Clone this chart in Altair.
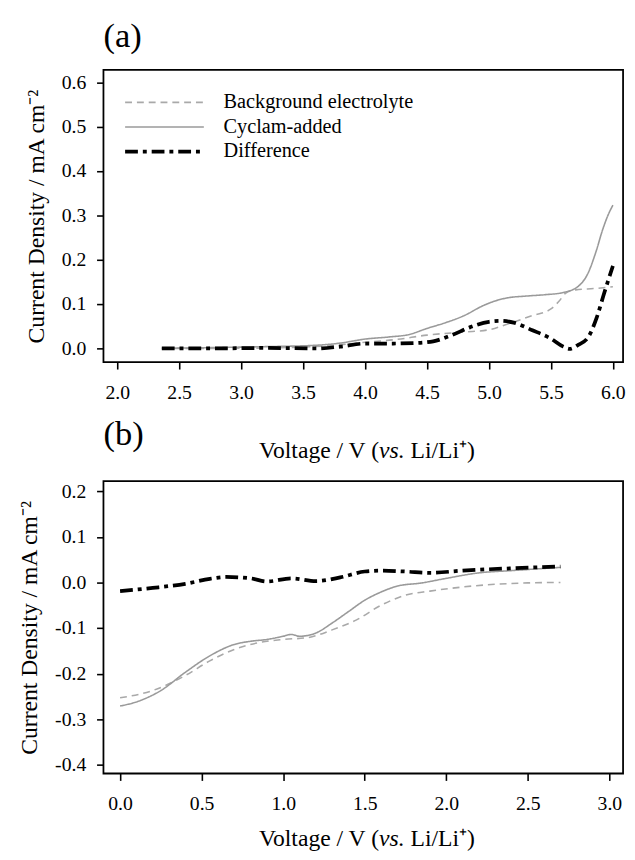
import altair as alt
import pandas as pd

SERIES = ["Background electrolyte", "Cyclam-added", "Difference"]
COLORS = ["#a9a9a9", "#9a9a9a", "#000000"]
DASHES = [[7, 5], [1, 0], [13, 5, 4, 5]]
WIDTHS = [1.6, 1.6, 3.8]
FONT = "Liberation Serif"

# ---- panel (a): oxidation scan ----
a_bg_v = [2.36, 2.8, 3.2, 3.5, 3.75, 4.0, 4.25, 4.5, 4.8, 5.0, 5.15, 5.35, 5.5, 5.57, 5.62, 5.7, 5.85, 6.0]
a_bg_j = [0.0, 0.0, 0.001, 0.003, 0.007, 0.014, 0.02, 0.03, 0.037, 0.042, 0.055, 0.074, 0.089, 0.108, 0.125, 0.132, 0.135, 0.139]
a_cy_v = [2.36, 2.8, 3.2, 3.6, 3.8, 4.0, 4.2, 4.35, 4.5, 4.65, 4.8, 4.95, 5.05, 5.15, 5.3, 5.45, 5.6, 5.72, 5.8, 5.86, 5.92, 5.96, 6.0]
a_cy_j = [0.0, 0.002, 0.004, 0.007, 0.012, 0.021, 0.026, 0.031, 0.045, 0.058, 0.074, 0.096, 0.107, 0.114, 0.118, 0.121, 0.126, 0.14, 0.17, 0.215, 0.27, 0.3, 0.323]
a_df_v = [2.36, 2.8, 3.2, 3.6, 3.8, 4.0, 4.2, 4.4, 4.55, 4.7, 4.85, 5.0, 5.1, 5.2, 5.35, 5.5, 5.6, 5.65, 5.72, 5.8, 5.87, 5.93, 6.0]
a_df_j = [0.0, 0.0, 0.001, 0.0, 0.004, 0.011, 0.011, 0.012, 0.016, 0.03, 0.048, 0.06, 0.062, 0.058, 0.041, 0.022, 0.004, -0.001, 0.008, 0.025, 0.07, 0.125, 0.186]

# ---- panel (b): reduction scan ----
b_bg_v = [0.0, 0.2, 0.4, 0.55, 0.7, 0.85, 1.0, 1.15, 1.3, 1.45, 1.6, 1.75, 1.9, 2.1, 2.3, 2.5, 2.7]
b_bg_j = [-0.253, -0.237, -0.204, -0.172, -0.147, -0.132, -0.125, -0.121, -0.104, -0.082, -0.05, -0.028, -0.019, -0.01, -0.004, -0.001, 0.0]
b_cy_v = [0.0, 0.1, 0.25, 0.4, 0.55, 0.7, 0.8, 0.9, 1.0, 1.05, 1.1, 1.2, 1.3, 1.4, 1.5, 1.6, 1.7, 1.85, 2.0, 2.2, 2.4, 2.7]
b_cy_j = [-0.271, -0.262, -0.237, -0.197, -0.161, -0.136, -0.129, -0.125, -0.118, -0.114, -0.118, -0.111, -0.089, -0.064, -0.039, -0.021, -0.008, -0.001, 0.009, 0.021, 0.026, 0.033]
b_df_v = [0.0, 0.2, 0.4, 0.55, 0.65, 0.8, 0.9, 1.05, 1.2, 1.35, 1.5, 1.6, 1.75, 1.9, 2.1, 2.4, 2.7]
b_df_j = [-0.019, -0.012, -0.003, 0.008, 0.012, 0.009, 0.002, 0.009, 0.003, 0.011, 0.024, 0.026, 0.024, 0.021, 0.026, 0.031, 0.035]

A_XTICKS = [2.0, 2.5, 3.0, 3.5, 4.0, 4.5, 5.0, 5.5, 6.0]
A_YTICKS = [0.0, 0.1, 0.2, 0.3, 0.4, 0.5, 0.6]
B_XTICKS = [0.0, 0.5, 1.0, 1.5, 2.0, 2.5, 3.0]
B_YTICKS = [-0.4, -0.3, -0.2, -0.1, 0.0, 0.1, 0.2]

# x-axis title in three runs so that "vs." can be italic
XTITLE_PARTS = ["Voltage / V (", "vs.", "Li/Li\u207a)"]
YTITLE = "Current Density / mA cm\u207b\u00b2"


def frame(pairs):
    rows = []
    for name, vs, js in pairs:
        for i, (v, j) in enumerate(zip(vs, js)):
            rows.append({"series": name, "V": v, "J": j, "i": i})
    return pd.DataFrame(rows)


df_a = frame([(SERIES[0], a_bg_v, a_bg_j), (SERIES[1], a_cy_v, a_cy_j), (SERIES[2], a_df_v, a_df_j)])
df_b = frame([(SERIES[0], b_bg_v, b_bg_j), (SERIES[1], b_cy_v, b_cy_j), (SERIES[2], b_df_v, b_df_j)])

LBL = "datum.value < 0 ? '-' + format(-datum.value, '.1f') : format(datum.value, '.1f')"


def xtitle_layers(ybase):
    specs = [(XTITLE_PARTS[0], "right", "normal", 280),
             (XTITLE_PARTS[1], "left", "italic", 280),
             (XTITLE_PARTS[2], "left", "normal", 312)]
    out = []
    for txt, al, sty, xpos in specs:
        out.append(
            alt.Chart(pd.DataFrame({"t": [txt]})).mark_text(
                align=al, baseline="alphabetic", font=FONT, fontSize=24,
                fontStyle=sty, color="black"
            ).encode(text="t:N", x=alt.value(xpos), y=alt.value(ybase))
        )
    return out


def panel(df, xdom, ydom, xticks, yticks, show_legend, title_base, letter, letter_off):
    leg = None
    if show_legend:
        leg = alt.Legend(
            title=None, orient="none", legendX=20, legendY=21,
            symbolType="stroke", symbolSize=6400, clipHeight=24, rowPadding=1,
            labelFont=FONT, labelFontSize=20.6, labelColor="black", labelOffset=18,
            padding=0, labelLimit=400,
        )
    lines = alt.Chart(df).mark_line(interpolate="monotone", clip=True).encode(
        x=alt.X("V:Q", scale=alt.Scale(domain=xdom, nice=False, zero=False),
                axis=alt.Axis(values=xticks, labelExpr=LBL, title=None)),
        y=alt.Y("J:Q", scale=alt.Scale(domain=ydom, nice=False, zero=False),
                axis=alt.Axis(values=yticks, labelExpr=LBL, title=YTITLE)),
        color=alt.Color("series:N", scale=alt.Scale(domain=SERIES, range=COLORS), legend=leg),
        strokeDash=alt.StrokeDash("series:N", scale=alt.Scale(domain=SERIES, range=DASHES), legend=leg),
        strokeWidth=alt.StrokeWidth("series:N", scale=alt.Scale(type="ordinal", domain=SERIES, range=WIDTHS), legend=leg),
        order="i:Q",
    )
    return alt.layer(lines, *xtitle_layers(title_base), title=alt.TitleParams(
        letter, anchor="start", frame="group", font=FONT, fontSize=35,
        fontWeight="normal", color="black", offset=letter_off)).properties(width=528, height=297)


pa = panel(df_a, [1.889, 6.082], [-0.031, 0.628], A_XTICKS, A_YTICKS, True, 394, "(a)", 16)
pb = panel(df_b, [-0.102, 3.084], [-0.419, 0.222], B_XTICKS, B_YTICKS, False, 371, "(b)", 30)

chart = alt.vconcat(pa, pb, spacing=121, bounds="flush").resolve_scale(
    color="independent", strokeDash="independent", strokeWidth="independent"
).resolve_legend(color="independent", strokeDash="independent", strokeWidth="independent").properties(
    padding={"left": 9, "top": 4, "right": 0, "bottom": 0}
).configure_view(
    stroke="black", strokeWidth=1.8
).configure_axis(
    domain=False, grid=False, ticks=True, tickColor="black", tickWidth=1.6, tickSize=7,
    labelFont=FONT, labelFontSize=20, labelColor="black", labelPadding=11, labelFlush=False,
    labelOverlap=False,
    titleFont=FONT, titleFontSize=24, titleFontWeight="normal", titleColor="black",
).configure_axisX(
    labelPadding=14,
).configure_axisY(
    titlePadding=13,
)

chart.save("out.html", embed_options={"renderer": "svg", "actions": False})
